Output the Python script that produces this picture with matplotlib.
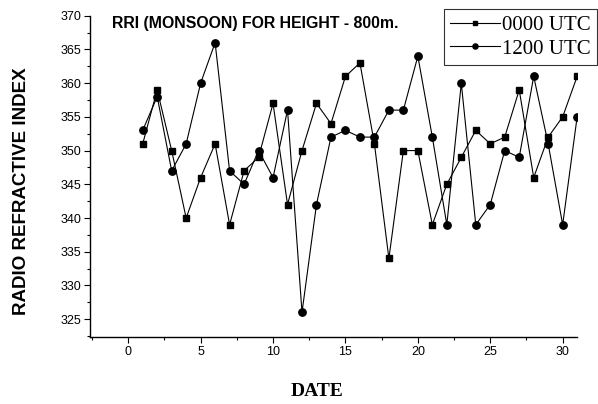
import matplotlib
matplotlib.use("Agg")
import matplotlib.pyplot as plt
from matplotlib.ticker import MultipleLocator

days = list(range(1, 32))
utc0000 = [351, 359, 350, 340, 346, 351, 339, 347, 349, 357, 342, 350, 357, 354, 361, 363,
           351, 334, 350, 350, 339, 345, 349, 353, 351, 352, 359, 346, 352, 355, 361]
utc1200 = [353, 358, 347, 351, 360, 366, 347, 345, 350, 346, 356, 326, 342, 352, 353, 352,
           352, 356, 356, 364, 352, 339, 360, 339, 342, 350, 349, 361, 351, 339, 355]
series_labels = ["0000 UTC", "1200 UTC"]
title = "RRI (MONSOON) FOR HEIGHT - 800m."
xlabel = "DATE"
ylabel = "RADIO REFRACTIVE INDEX"

fig = plt.figure(figsize=(5.98, 4.04), dpi=100)
ax = fig.add_axes([0.1505, 0.1666, 0.8139, 0.7945])

ax.plot(days, utc0000, color="black", lw=0.8, marker="s", ms=5, label=series_labels[0])
ax.plot(days, utc1200, color="black", lw=0.8, marker="o", ms=5.3, label=series_labels[1])

ax.set_xlim(-2.64, 30.97)
ax.set_ylim(322.4, 370)
ax.xaxis.set_major_locator(MultipleLocator(5))
ax.xaxis.set_minor_locator(MultipleLocator(2.5))
ax.yaxis.set_major_locator(MultipleLocator(5))
ax.yaxis.set_minor_locator(MultipleLocator(2.5))
for s in ["top", "right"]:
    ax.spines[s].set_visible(False)
for s in ["left", "bottom"]:
    ax.spines[s].set_linewidth(1.0)
ax.tick_params(which="major", direction="out", length=4.5, width=0.8, labelsize=9, pad=2)
ax.tick_params(which="minor", direction="out", length=2.3, width=0.8)
for lbl in ax.get_xticklabels() + ax.get_yticklabels():
    lbl.set_fontfamily("Liberation Sans")

fig.text(112 / 598, 1 - 28 / 404, title, fontfamily="Liberation Sans", fontweight="bold",
         fontsize=11.4, ha="left", va="baseline")
fig.text(22 / 598, 1 - 191 / 404, ylabel, fontfamily="Liberation Sans", fontweight="bold",
         fontsize=13.5, rotation=90, ha="center", va="center")
fig.text(317 / 598, 1 - 392 / 404, xlabel, fontfamily="Liberation Serif", fontweight="bold",
         fontsize=14, ha="center", va="center")

leg = ax.legend(loc="upper right", bbox_to_anchor=(597 / 598, 1 - 9 / 404),
                bbox_transform=fig.transFigure, frameon=True, fancybox=False,
                prop={"family": "Liberation Serif", "size": 15}, handlelength=2.4,
                handletextpad=0.1, borderpad=0.3, labelspacing=0.2, markerscale=0.7,
                borderaxespad=0)
leg.get_frame().set_edgecolor("black")
leg.get_frame().set_linewidth(0.8)

fig.savefig("out.png", dpi=100)
